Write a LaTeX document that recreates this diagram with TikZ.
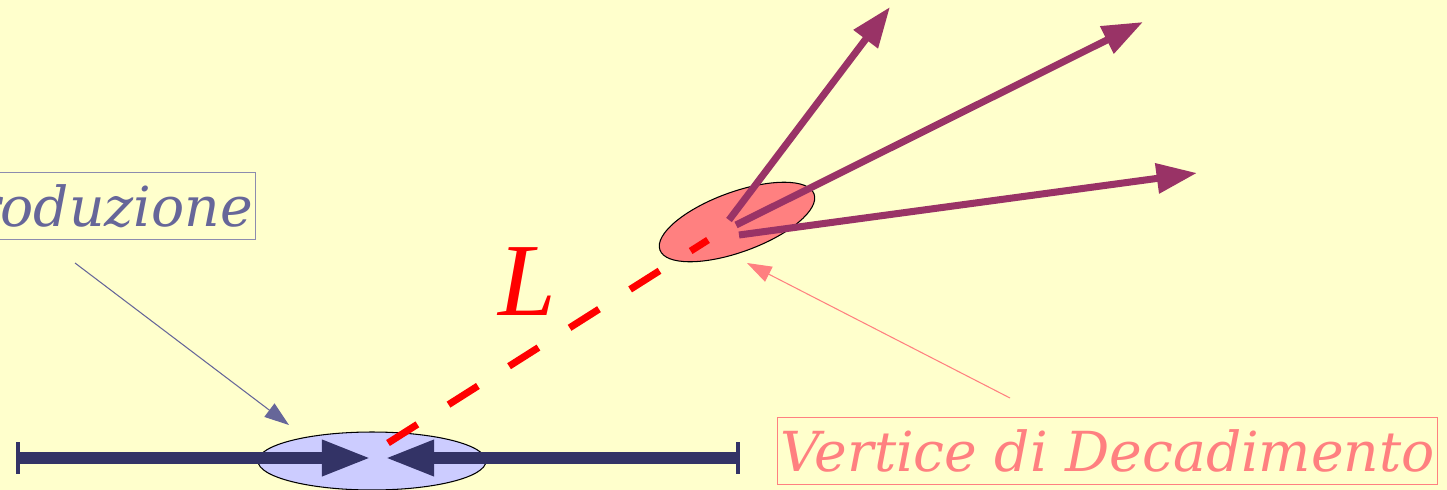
\documentclass[tikz,border=0pt]{standalone}
\usepackage{fontspec}
\setmainfont{DejaVu Serif}
\newfontfamily\lenfont{Liberation Serif}
\usepackage{tikz}
\usetikzlibrary{arrows.meta,shapes.geometric}
\definecolor{bgyellow}{HTML}{FFFFCC}
\definecolor{beamblue}{HTML}{333366}
\definecolor{prodfill}{HTML}{CCCCFF}
\definecolor{decfill}{HTML}{FF8080}
\definecolor{trackpurple}{HTML}{993366}
\definecolor{prodtext}{HTML}{666699}
\definecolor{prodframe}{HTML}{8C8CAE}
\definecolor{decpink}{HTML}{FF8080}

\begin{document}
\begin{tikzpicture}[x=0.02cm, y=-0.02cm,
  beam/.style={line width=6.5pt, draw=beamblue,
               {Bar[width=18pt,line width=2.2pt]}-{Triangle[length=28pt,width=19pt]}},
  vertex/.style={ellipse, draw=black, line width=0.6pt, inner sep=0pt},
  track/.style={line width=4pt, draw=trackpurple,
                -{Triangle[length=23pt,width=16.5pt]}},
  flight/.style={line width=4pt, draw=red, dash pattern=on 19.8pt off 21pt},
  pointer/.style={line width=0.6pt, -{Triangle[length=14pt,width=9.5pt]}},
  labelbox/.style={draw, line width=0.6pt, inner xsep=1.5pt, inner ysep=0pt,
                   text height=30.5pt, text depth=7.4pt,
                   font=\fontsize{31.4}{32}\selectfont\itshape},
  ]
  \fill[bgyellow] (0,0) rectangle (1447,490);
  \useasboundingbox (0,0) rectangle (1447,490);
  \clip (0,0) rectangle (1447,490);

  % vertices
  \node[vertex, fill=prodfill, minimum width=4.56cm, minimum height=1.16cm] (prodv) at (372,461) {};
  \node[vertex, fill=decfill, minimum width=3.28cm, minimum height=1.2cm, rotate=20] (decv) at (737,222) {};

  % colliding beams
  \coordinate (beamL) at (16,458);
  \coordinate (beamR) at (740,458);
  \coordinate (hitL) at (371,458);
  \coordinate (hitR) at (385,458);
  \draw[beam] (beamL) -- (hitL);
  \draw[beam] (beamR) -- (hitR);

  % flight path
  \coordinate (flyA) at (388,443);
  \coordinate (flyB) at (708,240);
  \draw[flight] (flyA) -- (flyB);
  \node[text=red, inner sep=0pt, font=\lenfont\fontsize{59}{60}\selectfont\itshape] (lenlabel) at (527,282) {L};

  % decay products
  \coordinate (trkA0) at (729,220);
  \coordinate (trkB0) at (736,225);
  \coordinate (trkC0) at (739,235);
  \coordinate (trkA) at (890,7);
  \coordinate (trkB) at (1143,22);
  \coordinate (trkC) at (1197,173);
  \draw[track] (trkA0) -- (trkA);
  \draw[track] (trkB0) -- (trkB);
  \draw[track] (trkC0) -- (trkC);

  % labels
  \node[labelbox, draw=prodframe, text=prodtext, anchor=south east] (prodlabel) at (256,240) {Vertice di Produzione};
  \node[labelbox, draw=decpink, text=decpink, anchor=south west] (declabel) at (777,485) {Vertice di Decadimento};

  \coordinate (prodfoot) at (75,263);
  \coordinate (prodtip) at (289,425);
  \coordinate (decfoot) at (1010,398);
  \coordinate (dectip) at (747,263);
  \draw[pointer, prodtext] (prodfoot) -- (prodtip);
  \draw[pointer, decpink] (decfoot) -- (dectip);
\end{tikzpicture}
\end{document}
